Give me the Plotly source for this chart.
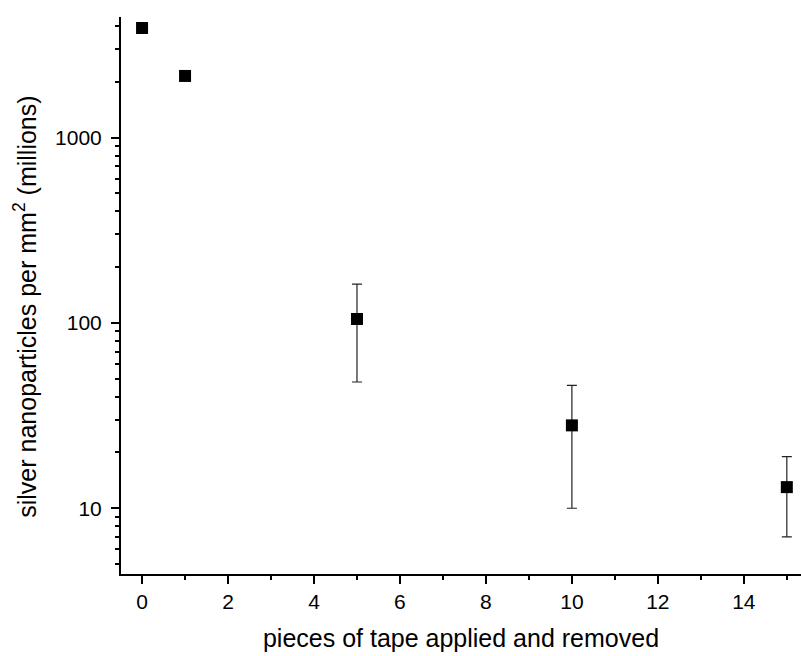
import plotly.graph_objects as go

# tape pulls and measured particle density (millions per mm^2)
pieces = [0, 1, 5, 10, 15]
density = [3900, 2150, 105, 28, 13]
upper = [3900, 2150, 162, 46, 19]
lower = [3900, 2150, 48, 10, 7]
err_upper = [u - d for u, d in zip(upper, density)]
err_lower = [d - l for l, d in zip(lower, density)]

x_ticks = [0, 2, 4, 6, 8, 10, 12, 14]
y_ticks = [10, 100, 1000]
y_minor = [5, 6, 7, 8, 9, 20, 30, 40, 50, 60, 70, 80, 90,
           200, 300, 400, 500, 600, 700, 800, 900, 2000, 3000, 4000]

FONT = "Arial, Liberation Sans, sans-serif"

fig = go.Figure()
fig.add_trace(go.Scatter(
    x=pieces, y=density, mode="markers",
    marker=dict(symbol="square", size=12, color="black"),
    error_y=dict(type="data", symmetric=False, array=err_upper,
                 arrayminus=err_lower, color="#222", thickness=1.2, width=5),
    showlegend=False,
))

fig.update_layout(
    width=801, height=656,
    margin=dict(l=121, r=0, t=17, b=82),
    paper_bgcolor="white", plot_bgcolor="white",
    font=dict(family=FONT, color="black", size=21),
    xaxis=dict(
        range=[-0.49, 15.33], tickvals=x_ticks, ticks="outside",
        ticklen=8, tickwidth=2, tickcolor="black",
        showline=True, linewidth=2, linecolor="black",
        showgrid=False, zeroline=False,
        tickfont=dict(size=21),
        minor=dict(dtick=1, tick0=0, ticks="outside", ticklen=4,
                   tickwidth=2, tickcolor="black", showgrid=False),
        title=dict(text="pieces of tape applied and removed",
                   font=dict(size=25), standoff=17),
    ),
    yaxis=dict(
        type="log", range=[0.6452, 3.6505], tickvals=y_ticks,
        ticktext=[str(v) for v in y_ticks], ticks="outside",
        ticklen=8, tickwidth=2, tickcolor="black",
        showline=True, linewidth=2, linecolor="black",
        showgrid=False, zeroline=False,
        tickfont=dict(size=21), ticklabelstandoff=5,
        minor=dict(tickvals=y_minor, ticks="outside", ticklen=4,
                   tickwidth=2, tickcolor="black", showgrid=False),
    ),
    annotations=[dict(
        text="silver nanoparticles per mm<sup>2</sup> (millions)",
        xref="paper", yref="paper", x=-0.141, y=0.48,
        xanchor="center", yanchor="middle", textangle=-90,
        showarrow=False, font=dict(size=25),
    )],
)

fig.write_html("out.html")
